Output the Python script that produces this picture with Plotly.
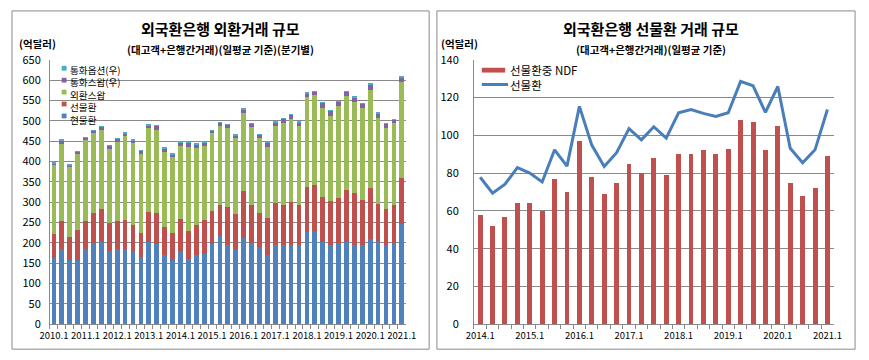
import plotly.graph_objects as go

W, H = 869, 360

# ---------------- data ----------------
quarters_left = [f"{y}.{q}" for y in range(2010, 2022) for q in range(1, 5)][:45]
quarters_right = [f"{y}.{q}" for y in range(2014, 2022) for q in range(1, 5)][:29]

spot = [162, 184, 158, 158, 184, 200, 201, 180, 184, 184, 181, 165, 201, 198, 170,
        159, 180, 161, 170, 172, 198, 217, 196, 186, 212, 199, 190, 171, 194, 196,
        195, 195, 226, 228, 201, 194, 199, 202, 196, 194, 210, 202, 196, 200, 246]
forward = [60, 70, 56, 73, 70, 73, 81, 69, 70, 73, 64, 59, 74, 75, 68,
           65, 78, 69, 74, 83, 80, 75, 92, 84, 115, 95, 84, 91, 104, 98,
           105, 99, 112, 114, 112, 110, 112, 128, 126, 112, 126, 93, 86, 92, 114]
fx_swap = [169, 189, 172, 188, 198, 197, 196, 182, 194, 205, 201, 195, 206, 205, 186,
           186, 180, 206, 189, 183, 191, 196, 195, 187, 191, 191, 183, 174, 190, 200,
           204, 194, 220, 220, 219, 208, 225, 230, 224, 226, 240, 211, 201, 202, 235]
ccy_swap = [6, 10, 6, 6, 7, 7, 8, 8, 9, 8, 7, 8, 9, 10, 8,
            7, 10, 11, 10, 10, 8, 8, 8, 8, 11, 9, 9, 11, 9, 12,
            11, 9, 10, 10, 13, 14, 12, 12, 13, 11, 11, 13, 11, 10, 13]
ccy_option = [1, 1, 1, 1, 1, 1, 1, 1, 1, 1, 1, 1, 1, 1, 2,
              3, 1, 1, 1, 1, 1, 1, 1, 1, 1, 1, 1, 1, 1, 1,
              1, 1, 1, 1, 1, 1, 1, 1, 1, 1, 5, 1, 1, 1, 1]

ndf = [58, 52, 57, 64, 64, 60, 77, 70, 97, 78, 69, 75, 85, 80, 88,
       79, 90, 90, 92, 90, 93, 108, 107, 92, 105, 75, 68, 72, 89]
forward_total = [77.8, 69.4, 74.1, 82.9, 80.0, 75.3, 92.3, 83.7, 115.3, 94.8, 83.5, 90.8,
                 103.5, 97.6, 104.5, 98.5, 111.9, 113.6, 111.6, 109.9, 111.9, 128.5,
                 126.2, 112.1, 125.8, 93.1, 85.5, 92.3, 113.6]

left_series = [
    ("현물환", spot, "#4F81BD"),
    ("선물환", forward, "#C0504D"),
    ("외환스왑", fx_swap, "#9BBB59"),
    ("통화스왑(우)", ccy_swap, "#8064A2"),
    ("통화옵션(우)", ccy_option, "#4BACC6"),
]

KFONT = "Noto Sans CJK KR"
GRID = "#8a8a8a"


def px(x):
    return x / W


def py(y):
    return 1 - y / H


fig = go.Figure()
for name, vals, col in left_series:
    fig.add_trace(go.Bar(x=quarters_left, y=vals, name=name, width=0.6,
                         marker=dict(color=col, line=dict(width=0)),
                         xaxis="x", yaxis="y", showlegend=False))

fig.add_trace(go.Bar(x=quarters_right, y=ndf, name="선물환중 NDF", width=0.4,
                     marker=dict(color="#C0504D", line=dict(width=0)),
                     xaxis="x2", yaxis="y2", showlegend=False))
fig.add_trace(go.Scatter(x=quarters_right, y=forward_total, name="선물환", mode="lines",
                         line=dict(color="#4A7EBB", width=3),
                         xaxis="x2", yaxis="y2", showlegend=False))


def xlabels(cats):
    return [c if i % 4 == 0 else "" for i, c in enumerate(cats)]


xcommon = dict(type="category", tickmode="array", tickson="boundaries",
               ticks="outside", ticklen=4, tickcolor=GRID, showline=True,
               linecolor=GRID, linewidth=1, showgrid=False, tickangle=0,
               ticklabelstandoff=2,
               tickfont=dict(family=KFONT, size=9.5, color="#000"))
ycommon = dict(showgrid=True, gridcolor=GRID, gridwidth=1, showline=True,
               linecolor=GRID, linewidth=1, zeroline=False, ticks="",
               tickfont=dict(family=KFONT, size=11, color="#000"))

ydom = [py(330), py(53)]

fig.update_layout(
    width=W, height=H, margin=dict(l=0, r=0, t=0, b=0),
    paper_bgcolor="white", plot_bgcolor="white",
    barmode="stack", showlegend=False,
    font=dict(family=KFONT, color="#000"),
    xaxis=dict(domain=[px(40), px(405)], anchor="y",
               tickvals=quarters_left, ticktext=xlabels(quarters_left), **xcommon),
    yaxis=dict(domain=ydom, anchor="x", range=[0, 650], dtick=50,
               ticklabelstandoff=6, **ycommon),
    xaxis2=dict(domain=[px(475), px(844)], anchor="y2",
                tickvals=quarters_right, ticktext=xlabels(quarters_right), **xcommon),
    yaxis2=dict(domain=ydom, anchor="x2", range=[0, 140], dtick=20,
                ticklabelstandoff=12, **ycommon),
)

shapes = [
    dict(type="rect", xref="paper", yref="paper", x0=px(1), x1=px(429), y0=py(356), y1=py(2),
         line=dict(color="#8a8a8a", width=1)),
    dict(type="rect", xref="paper", yref="paper", x0=px(437), x1=px(866), y0=py(356), y1=py(2),
         line=dict(color="#8a8a8a", width=1)),
]
annotations = []


def text(x, y, s, size, anchor="center", bold=False, yanchor="middle"):
    annotations.append(dict(xref="paper", yref="paper", x=px(x), y=py(y),
                            text=f"<b>{s}</b>" if bold else s,
                            showarrow=False, xanchor=anchor, yanchor=yanchor,
                            borderpad=0, align="left",
                            font=dict(family=KFONT, size=size, color="#000")))


# left chart texts
text(215, 20, "외국환은행 외환거래 규모", 15, bold=True)
text(215, 42, "(대고객+은행간거래)(일평균 기준)(분기별)", 10.5, bold=True)
text(7, 36.5, "(억달러)", 10.5, anchor="left", bold=True)

# left legend (top to bottom: reversed stacking order), one multi-line text block
LEG_FS = 9.6
line_h = LEG_FS * 1.3
leg_top = 62
names = [s[0] for s in reversed(left_series)]
text(60, leg_top - line_h / 2, "<br>".join(names), LEG_FS, anchor="left", yanchor="top")
for i, (name, vals, col) in enumerate(reversed(left_series)):
    yy = leg_top + i * line_h
    shapes.append(dict(type="rect", xref="paper", yref="paper", x0=px(52), x1=px(57),
                       y0=py(yy + 2.5), y1=py(yy - 2.5), fillcolor=col, line=dict(width=0)))

# right chart texts
text(657, 20, "외국환은행 선물환 거래 규모", 15, bold=True)
text(657, 42, "(대고객+은행간거래)(일평균 기준)", 10.5, bold=True)
text(440, 36.5, "(억달러)", 10.5, anchor="left", bold=True)

shapes.append(dict(type="rect", xref="paper", yref="paper", x0=px(483), x1=px(507),
                   y0=py(66.5), y1=py(61.5), fillcolor="#C0504D", line=dict(width=0)))
text(511, 64, "선물환중 NDF", 11.5, anchor="left")
shapes.append(dict(type="line", xref="paper", yref="paper", x0=px(483), x1=px(510),
                   y0=py(79), y1=py(79), line=dict(color="#4A7EBB", width=3)))
text(511, 80, "선물환", 11.5, anchor="left")

fig.update_layout(shapes=shapes, annotations=annotations)
fig.write_html("out.html", config={"displayModeBar": False},
               post_script="document.body.style.margin='0px';")
